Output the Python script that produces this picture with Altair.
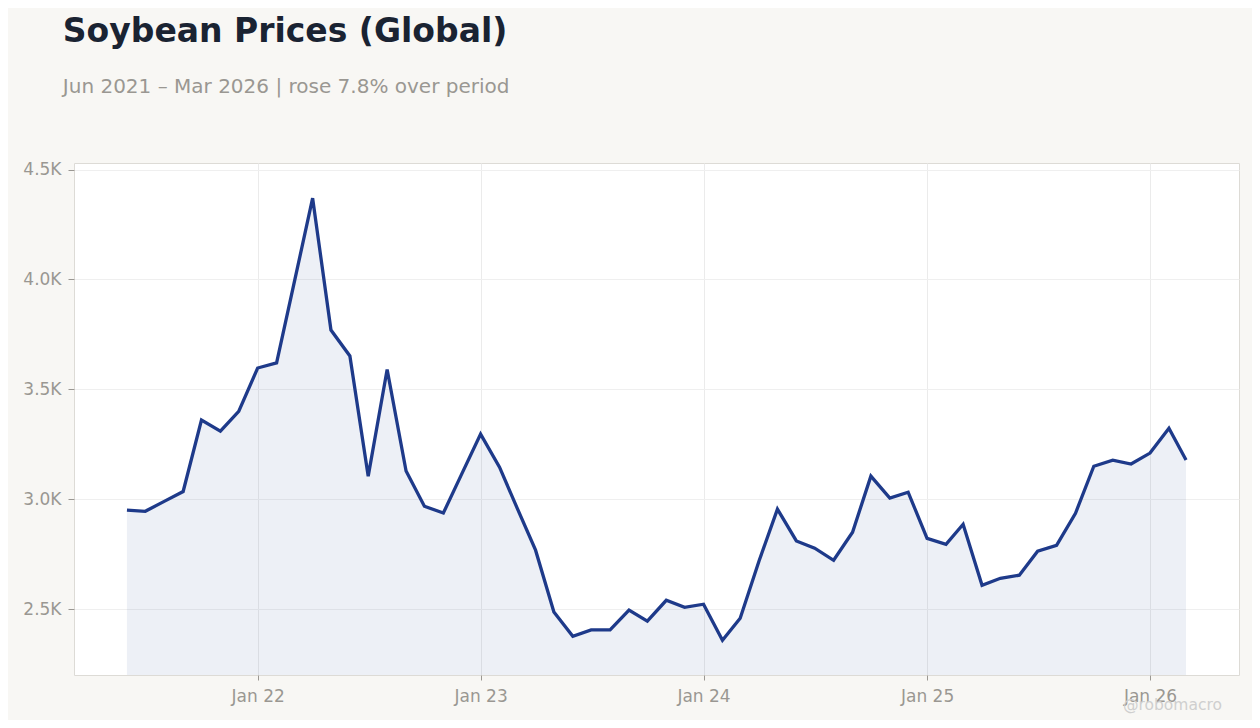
import altair as alt
import pandas as pd

months = pd.date_range("2021-06-01", "2026-03-01", freq="MS")
prices = [
    2950, 2945, 2990, 3035, 3360, 3310, 3400,
    3597, 3620, 3975, 4370, 3770, 3652, 3105, 3590, 3128, 2968, 2937, 3114,
    3296, 3146, 2965, 2768, 2487, 2376, 2405, 2405, 2495, 2445, 2540, 2508,
    2522, 2358, 2458, 2720, 2955, 2810, 2777, 2722, 2850, 3105, 3005, 3032,
    2822, 2795, 2886, 2608, 2640, 2654, 2763, 2790, 2936, 3150, 3178, 3160,
    3210, 3323, 3178,
]
y_ticks = [2500, 3000, 3500, 4000, 4500]
y_domain = [2200, 4530]
watermark = ["@robomacro"]

df = pd.DataFrame({"date": months, "price": prices})
span = months[-1] - months[0]
x_start = (months[0] - span * 0.05).strftime("%Y-%m-%dT%H:%M:%S")
x_end = (months[-1] + span * 0.05).strftime("%Y-%m-%dT%H:%M:%S")

W, H = 1165, 512
LINE = "#1e3a8a"
FONT = "DejaVu Sans"
LABEL = "#9a9792"

x = alt.X(
    "date:T",
    scale=alt.Scale(domain=[x_start, x_end]),
    axis=alt.Axis(
        title=None, format="%b %y", tickCount={"interval": "year", "step": 1},
        labelFontSize=17, labelColor=LABEL, labelFont=FONT,
        tickColor=LABEL, tickSize=5, labelPadding=8,
        domain=False, gridColor="#ebebeb", labelFlush=False,
    ),
)
y = alt.Y(
    "price:Q",
    scale=alt.Scale(domain=y_domain, zero=False, nice=False),
    axis=alt.Axis(
        title=None, values=y_ticks,
        labelExpr="format(datum.value/1000,'.1f')+'K'",
        labelFontSize=17, labelColor=LABEL, labelFont=FONT,
        tickColor=LABEL, tickSize=6, labelPadding=7,
        domain=False, gridColor="#efefef",
    ),
)

base = alt.Chart(df)
area = base.mark_area(color=LINE, opacity=0.08, clip=True).encode(
    x=x, y=y, y2=alt.Y2(datum=y_domain[0])
)
line = base.mark_line(color=LINE, strokeWidth=3.3, clip=True).encode(x=x, y=y)
mark = alt.Chart(pd.DataFrame({"t": watermark})).mark_text(
    font=FONT, fontSize=15.5, color="#cfcfcf", align="right", baseline="alphabetic"
).encode(text="t:N", x=alt.value(W - 17), y=alt.value(H + 35))

chart = (
    alt.layer(area, line, mark)
    .properties(
        width=W,
        height=H,
        background="#f8f7f4",
        padding={"left": 66, "top": 155, "right": 13, "bottom": 45},
        autosize=alt.AutoSizeParams(type="none"),
        title=alt.Title(
            "Soybean Prices (Global)",
            subtitle="Jun 2021 – Mar 2026 | rose 7.8% over period",
            anchor="start", dx=40, offset=64,
            font=FONT, fontSize=33, fontWeight="bold", color="#1a2332",
            subtitleFont=FONT, subtitleFontSize=20, subtitleColor=LABEL,
            subtitlePadding=28,
        ),
    )
    .configure_view(fill="white", stroke="#dddbd6", strokeWidth=1)
)

chart.save("out.html", embed_options={"renderer": "svg", "actions": False})
